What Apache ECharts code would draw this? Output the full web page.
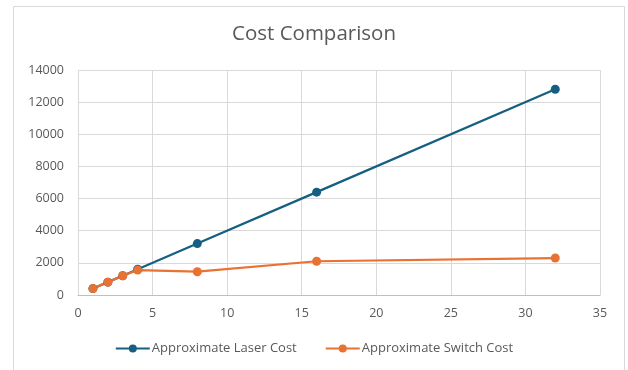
<!DOCTYPE html>
<html>
<head>
<meta charset="utf-8">
<script src="https://cdn.jsdelivr.net/npm/echarts@6/dist/echarts.min.js"></script>
<style>
  html, body { margin: 0; padding: 0; background: #fff; }
  #chart { width: 628px; height: 370px; }
</style>
</head>
<body>
<div id="chart"></div>
<script>
// Ports per node (x) and approximate cost for each option
const ports = [1, 2, 3, 4, 8, 16, 32];
const laserCost = [400, 800, 1200, 1600, 3200, 6400, 12800];
const switchCost = [400, 800, 1200, 1550, 1450, 2100, 2300];
const seriesNames = ['Approximate Laser Cost', 'Approximate Switch Cost'];
const chartTitle = 'Cost Comparison';

const pairs = (xs, ys) => xs.map((x, i) => [x, ys[i]]);
const font = '"Open Sans", Lato, sans-serif';
const textColor = '#595959';

const chart = echarts.init(document.getElementById('chart'), null, { renderer: 'canvas' });
chart.setOption({
  animation: false,
  backgroundColor: '#fff',
  color: ['#156082', '#E97132'],
  title: {
    text: chartTitle,
    left: 'center',
    top: 19,
    textStyle: { color: textColor, fontSize: 20.5, fontWeight: 'normal', fontFamily: font }
  },
  graphic: [{
    type: 'rect',
    shape: { x: 13.5, y: 6.5, width: 611, height: 380 },
    style: { fill: 'none', stroke: '#d9d9d9', lineWidth: 1 },
    silent: true
  }],
  grid: { left: 78, right: 28, top: 70, bottom: 75, containLabel: false },
  xAxis: {
    type: 'value',
    min: 0, max: 35, interval: 5,
    axisLine: { show: true, lineStyle: { color: '#bfbfbf' } },
    axisTick: { show: false },
    splitLine: { show: true, lineStyle: { color: '#d9d9d9' } },
    axisLabel: { color: textColor, fontSize: 12.5, fontFamily: font, margin: 12 }
  },
  yAxis: {
    type: 'value',
    min: 0, max: 14000, interval: 2000,
    axisLine: { show: false },
    axisTick: { show: false },
    splitLine: { show: true, lineStyle: { color: '#d9d9d9' } },
    axisLabel: {
      color: textColor, fontSize: 12.5, fontFamily: font, margin: 14,
      formatter: v => String(v)
    }
  },
  legend: {
    bottom: 10,
    left: 'center',
    itemWidth: 34,
    itemHeight: 10,
    itemGap: 28,
    textStyle: { color: textColor, fontSize: 13, fontFamily: font, padding: [0, 0, 0, -3] },
    data: seriesNames
  },
  series: [
    {
      name: seriesNames[0],
      type: 'line',
      data: pairs(ports, laserCost),
      symbol: 'circle',
      symbolSize: 9,
      lineStyle: { width: 2.25 }
    },
    {
      name: seriesNames[1],
      type: 'line',
      data: pairs(ports, switchCost),
      symbol: 'circle',
      symbolSize: 9,
      lineStyle: { width: 2.25 }
    }
  ]
});
</script>
</body>
</html>
